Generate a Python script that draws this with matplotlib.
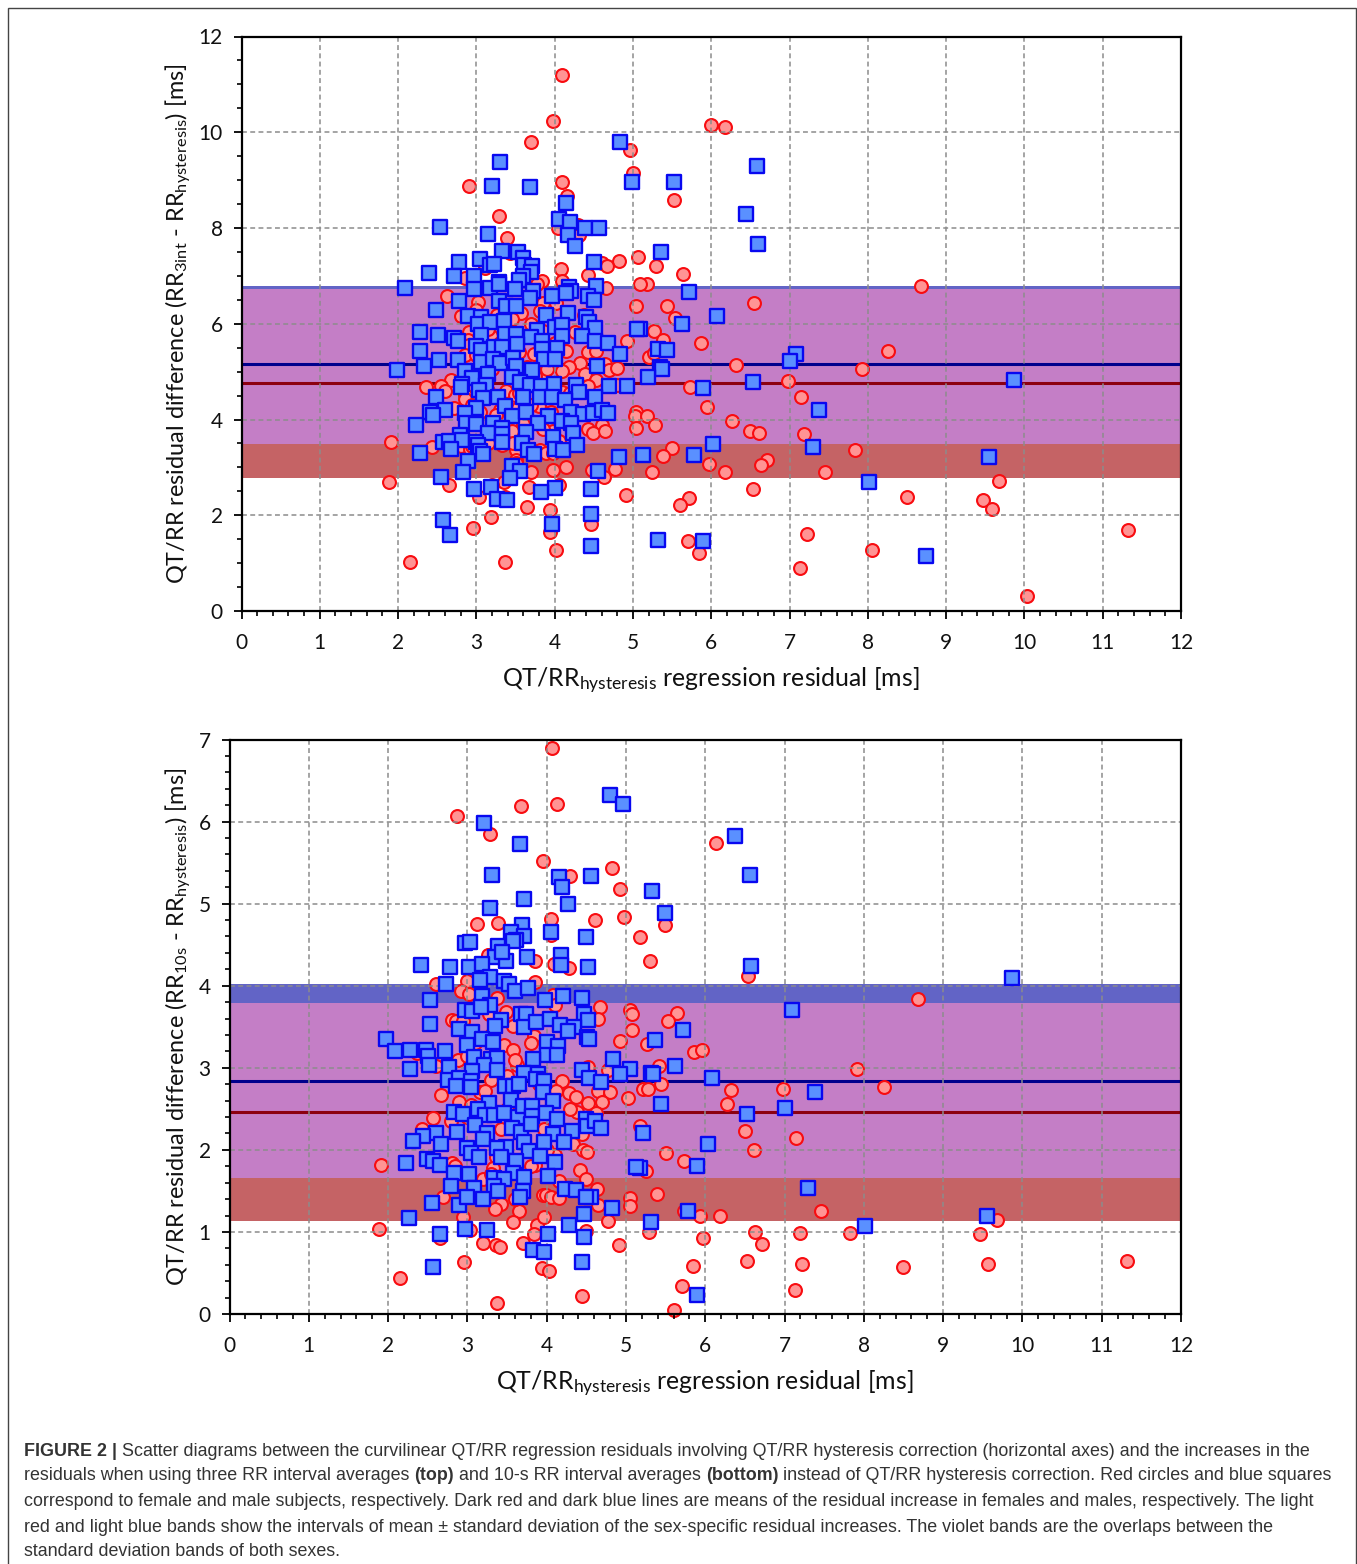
import matplotlib
matplotlib.use("Agg")
import matplotlib.pyplot as plt
from matplotlib.patches import Rectangle
from matplotlib.ticker import MultipleLocator

# Data: (residual, difference)
top_male = [
    (4.83,9.8),(3.3,9.38),(6.59,9.3),(3.2,8.87),(3.68,8.85),(4.99,8.97),(5.52,8.97),(4.15,8.52),(6.44,8.3),
    (4.05,8.19),(4.19,8.13),(4.39,8.0),(4.56,8.0),(2.53,8.03),(3.15,7.87),(4.17,7.86),(6.6,7.66),(4.26,7.62),
    (3.33,7.51),(3.53,7.5),(5.36,7.5),(3.04,7.36),(3.6,7.37),(2.78,7.29),(3.17,7.23),(3.23,7.25),(3.61,7.22),
    (3.71,7.2),(3.7,7.09),(4.5,7.3),(2.4,7.06),(2.72,6.99),(2.97,6.99),(3.6,6.99),(3.54,6.92),(3.29,6.88),
    (2.09,6.75),(2.97,6.73),(3.17,6.75),(3.29,6.84),(3.49,6.73),(3.72,6.68),(4.18,6.77),(4.21,6.68),(4.53,6.79),
    (5.72,6.66),(3.69,6.54),(3.97,6.57),(4.15,6.64),(4.43,6.57),(4.5,6.5),(2.78,6.48),(3.29,6.48),(3.38,6.38),
    (3.5,6.38),(2.48,6.29),(6.07,6.17),(2.89,6.17),(3.06,6.15),(3.89,6.19),(4.17,6.23),(3.02,6.0),(3.18,6.03),
    (3.35,6.05),(4.4,6.15),(4.44,6.03),(4.52,5.91),(4.01,5.93),(4.1,5.97),(3.77,5.86),(2.28,5.83),(5.63,5.99),
    (5.09,5.88),(2.51,5.76),(2.72,5.7),(2.76,5.65),(3.06,5.77),(3.36,5.78),(3.5,5.78),(3.7,5.72),(3.84,5.65),
    (4.09,5.74),(4.35,5.74),(4.51,5.65),(5.05,5.88),(4.68,5.6),(2.28,5.43),(3.0,5.53),(3.06,5.45),(3.23,5.52),
    (3.33,5.52),(3.52,5.57),(3.84,5.47),(4.03,5.49),(4.84,5.36),(5.32,5.48),(5.44,5.46),(7.08,5.36),(7.01,5.22),
    (2.52,5.24),(2.77,5.24),(3.06,5.2),(3.21,5.27),(3.3,5.18),(3.47,5.29),(3.51,5.11),(3.86,5.26),(4.01,5.26),
    (4.54,5.12),(1.98,5.03),(2.33,5.12),(2.86,5.02),(5.35,5.1),(5.37,5.05),(2.94,4.87),(3.15,4.95),(3.46,4.89),
    (3.71,5.03),(5.19,4.88),(6.53,4.78),(9.87,4.82),(2.82,4.75),(2.8,4.67),(3.12,4.72),(3.03,4.62),(3.56,4.79),
    (3.68,4.72),(3.82,4.71),(3.99,4.75),(4.27,4.72),(4.31,4.57),(4.69,4.71),(4.93,4.69),(5.89,4.65),(3.09,4.44),
    (3.27,4.46),(3.6,4.46),(3.81,4.48),(3.96,4.48),(4.13,4.41),(4.51,4.46),(2.49,4.46),(3.36,4.28),(3.0,4.24),
    (2.6,4.2),(2.41,4.15),(2.45,4.1),(2.86,4.13),(3.46,4.08),(3.64,4.15),(3.91,4.08),(4.21,4.15),(4.36,4.12),
    (4.49,4.13),(4.61,4.2),(4.68,4.13),(7.38,4.19),(2.23,3.89),(2.87,3.92),(2.99,3.9),(3.21,3.92),(3.33,3.82),
    (3.79,3.92),(4.1,3.96),(4.21,3.92),(2.79,3.68),(3.15,3.72),(3.33,3.7),(3.63,3.73),(3.98,3.63),(4.23,3.72),
    (2.57,3.52),(2.65,3.56),(2.82,3.58),(3.0,3.53),(3.02,3.47),(3.33,3.52),(3.58,3.51),(6.02,3.49),(7.3,3.43),
    (2.28,3.31),(2.67,3.38),(3.05,3.35),(3.08,3.27),(3.66,3.36),(3.73,3.28),(4.0,3.38),(4.11,3.36),(4.28,3.46),
    (4.82,3.21),(5.13,3.25),(5.78,3.25),(9.55,3.21),(2.89,3.13),(3.46,3.02),(2.83,2.9),(3.56,2.93),(4.55,2.93),
    (2.55,2.8),(3.43,2.78),(8.02,2.69),(2.97,2.55),(3.19,2.6),(4.01,2.57),(4.47,2.55),(3.83,2.49),(3.26,2.33),
    (3.39,2.31),(2.57,1.9),(4.47,2.02),(3.97,1.81),(2.66,1.58),(4.46,1.36),(5.32,1.49),(5.89,1.46),(8.74,1.15),
]

top_female = [
    (4.1,11.2),(3.98,10.23),(6.0,10.15),(6.18,10.12),(3.7,9.8),(4.96,9.63),(5.0,9.15),(2.9,8.87),(4.1,8.97),
    (4.16,8.67),(5.52,8.58),(3.29,8.26),(4.3,8.07),(4.04,8.0),(3.39,7.8),(4.31,7.86),(3.43,7.48),(5.07,7.39),
    (4.82,7.32),(2.77,7.3),(4.6,7.27),(5.29,7.2),(4.67,7.2),(3.11,7.16),(4.08,7.15),(5.64,7.04),(4.43,7.02),
    (2.85,6.95),(4.1,6.9),(3.84,6.9),(3.77,6.82),(5.18,6.83),(5.09,6.82),(8.68,6.79),(4.65,6.75),(2.62,6.59),
    (3.02,6.46),(5.44,6.37),(6.54,6.43),(5.04,6.38),(3.85,6.43),(4.02,6.43),(2.99,6.29),(3.81,6.26),(2.81,6.17),
    (3.26,6.19),(3.57,6.22),(4.38,6.19),(5.54,6.12),(2.91,5.83),(2.89,5.67),(2.9,5.55),(3.19,5.74),(4.26,5.83),
    (4.92,5.63),(5.27,5.84),(5.38,5.67),(5.87,5.6),(4.43,5.4),(4.53,5.43),(4.14,5.43),(3.73,5.36),(2.85,5.34),
    (5.21,5.31),(5.27,5.39),(8.26,5.43),(4.32,5.19),(6.31,5.13),(4.18,5.1),(4.1,5.02),(4.39,4.95),(4.64,5.16),
    (4.7,5.03),(4.8,5.07),(7.92,5.05),(3.86,4.98),(4.53,4.82),(4.43,4.69),(4.79,4.72),(6.98,4.8),(5.73,4.67),
    (2.67,4.82),(2.36,4.67),(2.55,4.69),(2.6,4.6),(2.86,4.51),(2.86,4.42),(3.38,4.6),(3.49,4.51),(4.1,4.58),
    (7.14,4.48),(2.72,4.24),(2.94,4.3),(3.3,4.2),(3.53,4.24),(3.8,4.28),(5.94,4.26),(5.04,4.15),(5.02,4.08),
    (5.18,4.08),(6.27,3.97),(5.28,3.88),(5.04,3.83),(4.6,3.89),(4.42,3.8),(4.49,3.72),(4.64,3.75),(3.98,3.75),
    (3.45,3.76),(6.49,3.75),(6.61,3.71),(7.19,3.7),(1.91,3.54),(2.43,3.43),(2.81,3.44),(2.92,3.38),(3.33,3.46),
    (3.51,3.37),(3.47,3.51),(3.81,3.37),(3.89,3.3),(3.98,3.29),(5.5,3.4),(5.39,3.24),(7.83,3.36),(3.51,3.16),
    (3.5,3.09),(6.71,3.16),(6.63,3.04),(5.97,3.07),(4.77,2.97),(5.24,2.9),(4.14,3.0),(3.98,2.94),(3.7,2.9),
    (4.48,2.94),(6.18,2.9),(7.45,2.91),(4.63,2.8),(9.68,2.72),(1.89,2.69),(2.65,2.63),(3.35,2.69),(3.67,2.59),
    (4.05,2.64),(3.2,2.64),(6.53,2.54),(3.37,2.38),(3.03,2.38),(4.91,2.43),(8.5,2.38),(5.72,2.35),(9.47,2.32),
    (5.6,2.21),(9.58,2.13),(3.65,2.18),(3.94,2.1),(3.19,1.96),(2.96,1.73),(4.46,1.81),(3.94,1.65),(11.32,1.7),
    (7.22,1.6),(5.7,1.46),(4.02,1.27),(8.05,1.27),(5.84,1.21),(2.15,1.02),(3.37,1.02),(7.13,0.89),(10.03,0.31),
    (3.3,5.6),(3.55,5.4),(3.65,5.1),(3.2,5.05),(3.75,4.9),(4.0,5.6),(3.9,5.05),(3.15,4.6),(3.55,4.55),(3.7,4.3),
    (3.95,4.15),(4.2,4.55),(3.25,4.1),(3.05,4.15),(3.6,3.9),(3.85,3.8),(3.15,3.5),(4.05,3.55),(2.95,3.45),
    (3.7,6.0),(3.45,6.1),(3.85,5.85),(3.0,5.35),(3.15,5.9),
]

bottom_male = [
    (4.8,6.32),(4.96,6.21),(3.21,5.98),(6.38,5.82),(3.66,5.73),(6.57,5.35),(3.31,5.35),(4.16,5.32),(4.19,5.2),
    (4.56,5.34),(5.33,5.15),(3.71,5.06),(4.27,5.0),(3.28,4.95),(5.49,4.89),(3.69,4.74),(3.55,4.65),(3.71,4.6),
    (3.61,4.56),(3.58,4.54),(4.05,4.65),(4.5,4.59),(2.97,4.52),(3.03,4.53),(3.39,4.48),(3.35,4.35),(3.49,4.3),
    (3.75,4.35),(3.44,4.41),(4.18,4.38),(2.41,4.25),(2.78,4.23),(3.02,4.23),(3.18,4.26),(4.18,4.25),(4.52,4.23),
    (6.58,4.24),(9.87,4.1),(3.29,4.11),(3.16,4.07),(3.46,4.06),(3.53,4.02),(2.73,4.02),(3.6,3.93),(3.77,3.97),
    (3.18,3.87),(3.98,3.83),(4.21,3.87),(4.44,3.85),(2.53,3.82),(3.29,3.77),(2.97,3.71),(3.06,3.69),(3.17,3.74),
    (7.09,3.71),(3.68,3.66),(3.74,3.66),(4.47,3.65),(4.52,3.58),(2.53,3.53),(3.42,3.58),(3.35,3.51),(3.72,3.5),
    (3.86,3.56),(4.04,3.59),(4.17,3.52),(4.35,3.5),(4.27,3.45),(5.72,3.46),(2.89,3.47),(3.06,3.43),(3.18,3.35),
    (3.32,3.31),(1.98,3.35),(4.51,3.37),(4.53,3.35),(5.36,3.34),(4.01,3.31),(4.14,3.26),(2.99,3.28),(2.09,3.21),
    (2.28,3.22),(2.48,3.22),(2.72,3.2),(2.5,3.14),(2.51,3.03),(4.01,3.15),(4.13,3.16),(3.08,3.13),(3.3,3.11),
    (3.37,3.12),(3.83,3.11),(3.21,3.04),(2.28,2.99),(2.77,3.01),(3.06,2.96),(3.37,2.97),(3.71,2.94),(3.89,2.93),
    (4.45,2.97),(4.84,3.11),(5.05,2.99),(5.62,3.02),(4.54,2.88),(4.92,2.93),(4.68,2.83),(5.32,2.94),(5.34,2.93),
    (6.08,2.88),(2.75,2.85),(2.89,2.88),(3.05,2.84),(2.86,2.78),(3.05,2.76),(3.47,2.78),(3.58,2.78),(3.65,2.8),
    (3.86,2.86),(3.97,2.84),(3.96,2.71),(7.38,2.7),(3.55,2.61),(4.08,2.59),(3.27,2.57),(5.44,2.56),(2.83,2.46),
    (2.95,2.44),(3.13,2.5),(3.22,2.43),(3.33,2.42),(3.46,2.45),(3.64,2.4),(3.7,2.54),(3.81,2.53),(3.81,2.41),
    (3.99,2.45),(4.13,2.38),(7.01,2.51),(6.53,2.44),(4.5,2.37),(4.51,2.29),(4.61,2.35),(4.68,2.27),(5.21,2.2),
    (3.1,2.3),(2.87,2.22),(3.25,2.21),(3.56,2.27),(3.68,2.22),(3.8,2.31),(2.6,2.2),(2.44,2.17),(2.32,2.11),
    (2.67,2.07),(4.32,2.23),(4.08,2.19),(4.22,2.1),(3.97,2.09),(3.2,2.13),(3.72,2.1),(6.03,2.07),(3.49,2.04),
    (3.37,2.02),(3.0,2.02),(3.05,1.96),(3.15,1.91),(3.78,1.98),(3.91,1.92),(3.43,1.91),(2.49,1.89),(2.57,1.87),
    (2.65,1.81),(3.61,1.87),(4.1,1.85),(2.22,1.84),(5.9,1.8),(5.18,1.78),(2.83,1.72),(3.02,1.7),(3.58,1.72),
    (3.33,1.66),(3.46,1.65),(3.72,1.67),(4.02,1.68),(5.13,1.79),(7.3,1.54),(2.79,1.56),(3.34,1.56),(3.08,1.54),
    (3.39,1.5),(3.7,1.5),(4.23,1.52),(4.37,1.51),(4.56,1.43),(4.5,1.43),(2.56,1.35),(2.89,1.33),(3.0,1.43),
    (3.2,1.4),(3.66,1.43),(5.78,1.26),(9.55,1.19),(2.27,1.17),(4.83,1.29),(4.47,1.22),(5.32,1.12),(4.28,1.09),
    (8.02,1.07),(2.97,1.03),(3.25,1.02),(2.66,0.98),(4.02,0.97),(4.47,0.94),(3.83,0.78),(3.97,0.75),(2.57,0.57),
    (4.45,0.63),(5.89,0.23),
]

bottom_female = [
    (4.07,6.9),(3.67,6.19),(4.13,6.21),(2.87,6.07),(3.29,5.85),(6.14,5.74),(3.95,5.52),(4.82,5.44),(4.3,5.34),
    (4.93,5.18),(4.98,4.84),(4.05,4.81),(4.61,4.8),(3.12,4.75),(3.39,4.77),(5.49,4.74),(4.06,4.62),(5.18,4.59),
    (5.3,4.3),(3.85,4.3),(3.27,4.37),(4.1,4.26),(4.28,4.22),(3.26,4.38),(6.54,4.12),(4.09,4.27),(2.61,4.02),
    (3.0,4.06),(3.85,4.04),(2.92,3.93),(3.02,3.9),(8.68,3.84),(3.37,3.85),(4.08,3.89),(4.1,3.77),(3.27,3.65),
    (3.49,3.68),(4.67,3.74),(5.05,3.7),(5.08,3.66),(5.64,3.67),(4.65,3.59),(5.53,3.57),(2.8,3.58),(2.86,3.57),
    (2.95,3.57),(3.57,3.51),(5.07,3.46),(3.84,3.39),(3.8,3.3),(4.92,3.33),(5.27,3.29),(3.46,3.28),(3.58,3.22),
    (5.86,3.19),(5.96,3.22),(2.36,3.18),(2.88,3.1),(2.99,3.14),(3.63,3.03),(2.61,3.02),(4.52,3.01),(4.77,2.97),
    (5.42,3.02),(7.92,2.98),(3.3,2.85),(4.19,2.84),(5.44,2.8),(8.26,2.76),(6.98,2.74),(6.32,2.73),(2.67,2.67),
    (3.16,2.7),(3.22,2.72),(4.12,2.72),(4.28,2.69),(4.37,2.65),(4.65,2.72),(4.8,2.71),(5.03,2.63),(5.21,2.74),
    (5.28,2.74),(6.27,2.56),(4.52,2.57),(4.7,2.58),(2.9,2.58),(3.05,2.55),(4.38,2.46),(4.62,2.45),(2.57,2.39),
    (2.79,2.35),(2.43,2.25),(3.43,2.25),(3.97,2.25),(4.44,2.19),(5.18,2.29),(6.5,2.23),(7.14,2.15),(4.33,2.07),
    (4.46,2.0),(4.51,1.97),(5.5,1.96),(6.61,2.0),(4.11,1.94),(3.36,1.91),(5.73,1.86),(3.85,1.82),(1.91,1.82),
    (2.81,1.84),(2.84,1.8),(4.42,1.75),(4.49,1.65),(5.25,1.74),(3.32,1.78),(4.16,1.62),(3.2,1.64),(4.63,1.52),
    (5.39,1.46),(2.69,1.43),(3.95,1.45),(3.99,1.45),(4.06,1.43),(4.15,1.41),(5.05,1.41),(5.05,1.31),(4.65,1.33),
    (3.43,1.34),(3.35,1.28),(3.65,1.25),(5.73,1.25),(7.46,1.26),(5.94,1.19),(6.18,1.2),(2.94,1.18),(9.68,1.14),
    (3.58,1.12),(3.88,1.09),(3.97,1.18),(4.77,1.13),(1.89,1.04),(3.03,1.02),(3.84,0.98),(2.65,0.93),(4.49,1.01),
    (5.29,1.0),(6.63,1.0),(7.19,0.99),(7.83,0.99),(9.47,0.98),(5.97,0.93),(3.2,0.87),(3.36,0.84),(3.41,0.82),
    (3.7,0.87),(4.91,0.84),(6.72,0.85),(2.96,0.63),(6.53,0.64),(7.22,0.61),(5.85,0.59),(8.5,0.57),(9.57,0.61),
    (11.32,0.65),(2.15,0.44),(3.94,0.56),(4.03,0.53),(5.71,0.34),(7.13,0.29),(4.45,0.22),(3.37,0.13),(5.6,0.05),
    (3.3,3.4),(3.6,3.1),(3.9,2.8),(3.5,2.5),(3.2,2.2),(3.7,2.3),(4.0,2.0),(3.5,2.9),(3.8,1.8),(3.3,1.7),(3.6,1.4),
    (3.0,2.4),(3.1,3.3),(4.3,2.5),
]

# y limits of bands and mean lines
top_means = (5.15, 4.77)
top_blue_strip = (6.72, 6.79)
top_violet = (3.49, 6.72)
top_red_strip = (2.78, 3.49)
bottom_means = (2.84, 2.46)
bottom_blue_strip = (3.79, 4.02)
bottom_violet = (1.66, 3.79)
bottom_red_strip = (1.13, 1.66)

xlabel = r"QT/RR$_{\mathrm{hysteresis}}$ regression residual [ms]"
top_ylabel = r"QT/RR residual difference (RR$_{\mathrm{3int}}$ - RR$_{\mathrm{hysteresis}}$) [ms]"
bottom_ylabel = r"QT/RR residual difference (RR$_{\mathrm{10s}}$ - RR$_{\mathrm{hysteresis}}$) [ms]"

caption = [
    [("FIGURE 2 | ", True), ("Scatter diagrams between the curvilinear QT/RR regression residuals involving QT/RR hysteresis correction (horizontal axes) and the increases in the", False)],
    [("residuals when using three RR interval averages ", False), ("(top)", True), (" and 10-s RR interval averages ", False), ("(bottom)", True), (" instead of QT/RR hysteresis correction. Red circles and blue squares", False)],
    [("correspond to female and male subjects, respectively. Dark red and dark blue lines are means of the residual increase in females and males, respectively. The light", False)],
    [("red and light blue bands show the intervals of mean \u00b1 standard deviation of the sex-specific residual increases. The violet bands are the overlaps between the", False)],
    [("standard deviation bands of both sexes.", False)],
]

W, H = 1357, 1564
plt.rcParams["font.family"] = ["Lato", "DejaVu Sans"]
plt.rcParams["mathtext.fontset"] = "custom"
plt.rcParams["mathtext.rm"] = "Lato"
plt.rcParams["mathtext.default"] = "rm"

fig = plt.figure(figsize=(W / 100, H / 100), dpi=100)


def axes_px(left, top, right, bottom):
    return fig.add_axes([left / W, 1 - bottom / H, (right - left) / W, (bottom - top) / H])


def draw_panel(ax, female, male, ymax, y_minor, means, blue_strip, violet, red_strip):
    ax.axhspan(*blue_strip, color="#6264C6", lw=0, zorder=0.5)
    ax.axhspan(*violet, color="#C47EC6", lw=0, zorder=0.5)
    ax.axhspan(*red_strip, color="#C56365", lw=0, zorder=0.5)
    ax.grid(True, color="#8c8c8c", ls=(0, (3.2, 2.2)), lw=1.1, zorder=1)
    ax.set_axisbelow(False)
    for line in ax.get_xgridlines() + ax.get_ygridlines():
        line.set_zorder(1)
    ax.axhline(means[0], color="#00008c", lw=2.2, zorder=1.5)
    ax.axhline(means[1], color="#8c0010", lw=2.2, zorder=1.5)
    ax.scatter([p[0] for p in female], [p[1] for p in female], s=86, marker="o",
               facecolor="#FF9494", edgecolor="#F80C10", linewidth=1.5, zorder=2, clip_on=False)
    ax.scatter([p[0] for p in male], [p[1] for p in male], s=88, marker="s",
               facecolor="#5A90FF", edgecolor="#0808F0", linewidth=1.7, zorder=3, clip_on=False)
    ax.set_xlim(0, 12)
    ax.set_ylim(0, ymax)
    ax.xaxis.set_major_locator(MultipleLocator(1))
    ax.xaxis.set_minor_locator(MultipleLocator(0.2))
    ax.yaxis.set_major_locator(MultipleLocator(2 if ymax == 12 else 1))
    ax.yaxis.set_minor_locator(MultipleLocator(y_minor))
    ax.tick_params(which="major", length=5.5, width=1.3, labelsize=15, pad=8, color="black", labelcolor="#111111")
    ax.tick_params(axis="x", which="major", pad=10)
    ax.tick_params(which="minor", length=3.6, width=1.2, color="black")
    for spine in ax.spines.values():
        spine.set_linewidth(1.6)
        spine.set_zorder(4)


ax1 = axes_px(241.5, 36.5, 1181, 611)
draw_panel(ax1, top_female, top_male, 12, 0.5, top_means, top_blue_strip, top_violet, top_red_strip)
ax2 = axes_px(229.5, 739.5, 1181, 1314)
draw_panel(ax2, bottom_female, bottom_male, 7, 0.2, bottom_means, bottom_blue_strip, bottom_violet, bottom_red_strip)

fig.text(711 / W, 1 - 681 / H, xlabel, fontsize=17.9, ha="center", va="center", color="#111111")
fig.text(705 / W, 1 - 1384 / H, xlabel, fontsize=17.9, ha="center", va="center", color="#111111")
fig.text(178 / W, 1 - 324 / H, top_ylabel, fontsize=16.9, rotation=90, ha="center", va="center", color="#111111")
fig.text(178 / W, 1 - 1027 / H, bottom_ylabel, fontsize=16.9, rotation=90, ha="center", va="center", color="#111111")

# Outer frame, open at the bottom of the picture
fig.add_artist(Rectangle((8 / W, -0.01), (1348) / W, 1.01 - 7.5 / H, transform=fig.transFigure,
                         fill=False, edgecolor="#444444", lw=1))

# Caption: runs of regular and bold text placed one after the other
renderer = fig.canvas.get_renderer()
line_y = [1451, 1476, 1501.5, 1527, 1552]
for runs, py in zip(caption, line_y):
    x = 24
    for s, bold in runs:
        t = fig.text(x / W, 1 - py / H, s, fontsize=12.9, family="Liberation Sans",
                     weight="bold" if bold else "normal", ha="left", va="center",
                     color="#333333")
        x += t.get_window_extent(renderer).width

fig.savefig("out.png", dpi=100)
